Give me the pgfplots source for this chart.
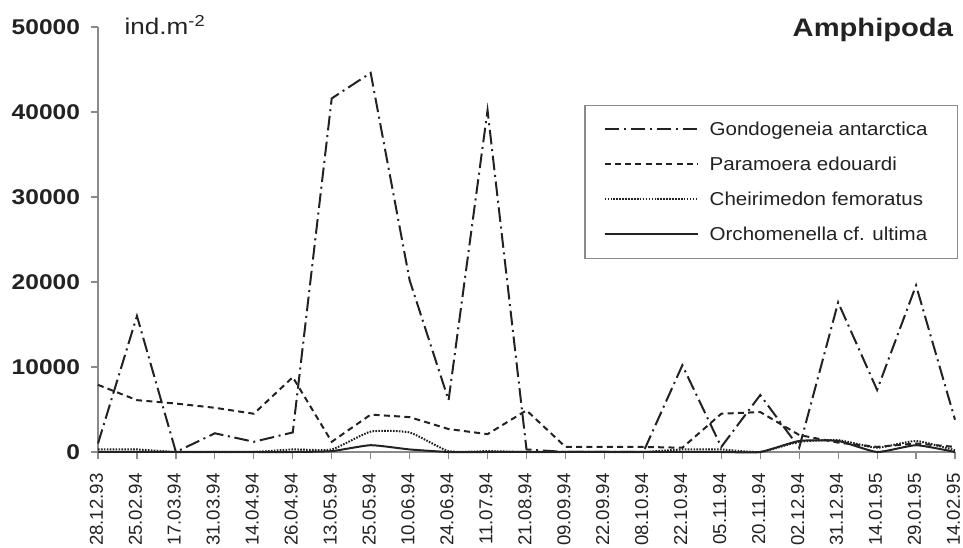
\documentclass[border=0pt]{standalone}
\usepackage{pgfplots}
\pgfplotsset{compat=1.18}
\usepackage{fontspec}
\setmainfont[FakeStretch=1.15]{Liberation Sans}
\newfontfamily\xlabfont{Liberation Sans}
\newfontfamily\legfont[FakeStretch=1.1]{Liberation Sans}
\definecolor{ink}{HTML}{222222}
\definecolor{axgray}{HTML}{8A8A8A}
\begin{document}
\begin{tikzpicture}
\useasboundingbox (-73.5pt,-72pt) rectangle (648.75pt,339pt);
\begin{axis}[
  at={(0,0)}, anchor=south west,
  scale only axis,
  width=642.75pt, height=318.75pt,
  xmin=0, xmax=22, ymin=0, ymax=50000,
  axis x line*=bottom, axis y line*=left,
  axis line style={draw=axgray, line width=0.9pt},
  tick style={draw=axgray, line width=0.9pt},
  tick align=outside, major tick length=5.5pt,
  xtick={0,...,22},
  xticklabels={28.12.93,25.02.94,17.03.94,31.03.94,14.04.94,26.04.94,13.05.94,25.05.94,10.06.94,24.06.94,11.07.94,21.08.94,09.09.94,22.09.94,08.10.94,22.10.94,05.11.94,20.11.94,02.12.94,31.12.94,14.01.95,29.01.95,14.02.95},
  xticklabel style={rotate=90, anchor=east, font=\xlabfont\fontsize{14pt}{15pt}\selectfont, text=ink, inner sep=0pt, outer sep=0pt, xshift=-10.5pt, yshift=1.2pt},
  ytick={0,10000,20000,30000,40000,50000},
  scaled y ticks=false,
  yticklabel style={font=\fontsize{16pt}{18pt}\selectfont\bfseries, text=ink, xshift=-4.5pt},
  /pgf/number format/1000 sep={},
  /pgf/number format/assume math mode=true,
  legend cell align=left,
  legend style={at={(rel axis cs:1.003,0.816)}, anchor=north east, draw=axgray, line width=0.8pt,
    font=\legfont\fontsize{14pt}{16pt}\selectfont, text=ink, row sep=10.6pt, inner xsep=14pt, inner ysep=10pt,
    nodes={inner xsep=8pt}},
  legend image code/.code={\draw[#1] (0pt,0pt) -- (70pt,0pt);},
  every axis plot/.append style={ink, line width=1.5pt},
  clip=false,
]
\addplot[dash pattern=on 11pt off 3.5pt on 1.5pt off 3.5pt] coordinates {
(0,1000) (1,16000) (2,0) (3,2200) (4,1200) (5,2300) (6,41600) (7,44600) (8,20200) (9,6100) (10,40200) (11,300) (12,0) (13,0) (14,0) (15,10200) (16,600) (17,6700) (18,500) (19,17600) (20,7300) (21,19600) (22,3800)};
\addlegendentry{Gondogeneia antarctica}
\addplot[dash pattern=on 4.5pt off 3.2pt] coordinates {
(0,7900) (1,6100) (2,5700) (3,5200) (4,4500) (5,8800) (6,1200) (7,4400) (8,4100) (9,2700) (10,2100) (11,4900) (12,600) (13,600) (14,600) (15,500) (16,4500) (17,4700) (18,2000) (19,1100) (20,600) (21,1000) (22,600)};
\addlegendentry{Paramoera edouardi}
\addplot[dash pattern=on 1.2pt off 1pt, smooth, tension=0.3] coordinates {
(0,300) (1,300) (2,0) (3,0) (4,0) (5,300) (6,300) (7,2400) (8,2300) (9,100) (10,100) (11,0) (12,0) (13,0) (14,0) (15,300) (16,300) (17,0) (18,1200) (19,1400) (20,500) (21,1300) (22,200)};
\addlegendentry{Cheirimedon femoratus}
\addplot[smooth, tension=0.3] coordinates {
(0,0) (1,0) (2,0) (3,0) (4,0) (5,0) (6,100) (7,800) (8,300) (9,0) (10,0) (11,0) (12,0) (13,0) (14,0) (15,0) (16,0) (17,0) (18,1300) (19,1300) (20,0) (21,800) (22,0)};
\addlegendentry{Orchomenella cf. ultima}
\node[anchor=base west, font=\fontsize{17pt}{19pt}\selectfont, text=ink] at ([xshift=16.5pt,yshift=-6pt]rel axis cs:0,1) {ind.m\textsuperscript{-2}};
\node[anchor=base east, font=\fontsize{19pt}{21pt}\selectfont\bfseries, text=ink] at ([xshift=2pt,yshift=-7.5pt]rel axis cs:1,1) {Amphipoda};
\end{axis}
\end{tikzpicture}
\end{document}
